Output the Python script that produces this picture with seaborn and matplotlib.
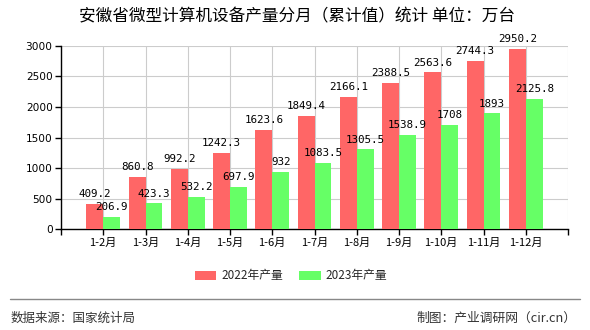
import matplotlib
matplotlib.use("Agg")
import matplotlib.pyplot as plt
import seaborn as sns
import pandas as pd
from matplotlib.lines import Line2D

categories = ["1-2月", "1-3月", "1-4月", "1-5月", "1-6月", "1-7月", "1-8月", "1-9月", "1-10月", "1-11月", "1-12月"]
values_2022 = [409.2, 860.8, 992.2, 1242.3, 1623.6, 1849.4, 2166.1, 2388.5, 2563.6, 2744.3, 2950.2]
values_2023 = [206.9, 423.3, 532.2, 697.9, 932, 1083.5, 1305.5, 1538.9, 1708, 1893, 2125.8]
series_names = ["2022年产量", "2023年产量"]
y_ticks = [0, 500, 1000, 1500, 2000, 2500, 3000]

colors = ["#FF6666", "#66FF66"]

df = pd.DataFrame({
    "月份": categories * 2,
    "产量": values_2022 + values_2023,
    "系列": [series_names[0]] * len(categories) + [series_names[1]] * len(categories),
})

sns.set_theme(style="white")
plt.rcParams["font.family"] = ["Noto Sans CJK SC", "DejaVu Sans"]
plt.rcParams["axes.unicode_minus"] = False

fig = plt.figure(figsize=(5.9, 3.3), dpi=100)
ax = fig.add_axes([61 / 590, (330 - 229.3) / 330, (568 - 61) / 590, (229.3 - 45.7) / 330])

sns.barplot(data=df, x="月份", y="产量", hue="系列", palette=colors, ax=ax,
            width=0.8, saturation=1, legend=False, zorder=3)

for container, vals in zip(ax.containers, [values_2022, values_2023]):
    for p in container.patches:
        p.set_edgecolor("none")
    ax.bar_label(container, labels=[f"{v:g}" for v in vals], padding=3.5,
                 fontsize=7.8, family="DejaVu Sans Mono", color="#000000", zorder=5)

ax.set_xlim(-1, 11)
ax.set_ylim(0, 3000)
ax.set_xticks(range(-1, 12))
ax.set_xticklabels([""] + categories + [""], fontsize=8)
ax.set_yticks(y_ticks)
ax.set_yticklabels([str(t) for t in y_ticks], fontsize=7.6, family="DejaVu Sans")
ax.set_xlabel("")
ax.set_ylabel("")

ax.grid(True, color="#cccccc", linewidth=0.8, zorder=0)
ax.set_axisbelow(True)
for s in ["top", "right"]:
    ax.spines[s].set_visible(False)
for s in ["left", "bottom"]:
    ax.spines[s].set_color("#000000")
    ax.spines[s].set_linewidth(1)
ax.tick_params(axis="both", which="both", direction="out", length=4, width=1,
               color="#000000", labelcolor="#000000", bottom=True, left=True, pad=2)

fig.text(297 / 590, 1 - 17 / 330, "安徽省微型计算机设备产量分月（累计值）统计 单位：万台",
         ha="center", va="center", fontsize=12, color="#000000")

handles = [plt.Rectangle((0, 0), 1, 1, facecolor=c, edgecolor="none") for c in colors]
fig.legend(handles, series_names, loc="center", bbox_to_anchor=(291 / 590, 1 - 276 / 330),
           ncol=2, frameon=False, fontsize=8.5, handlelength=1.8, handleheight=0.9,
           handletextpad=0.4, columnspacing=1.4)

fig.add_artist(Line2D([10 / 590, 580 / 590], [1 - 299 / 330, 1 - 299 / 330],
                      color="#888888", linewidth=1, transform=fig.transFigure))
fig.text(11 / 590, 1 - 318 / 330, "数据来源：国家统计局", ha="left", va="center",
         fontsize=9, color="#333333")
fig.text(576 / 590, 1 - 318 / 330, "制图：产业调研网（cir.cn）", ha="right", va="center",
         fontsize=9.2, color="#333333")

fig.savefig("out.png", dpi=100)
